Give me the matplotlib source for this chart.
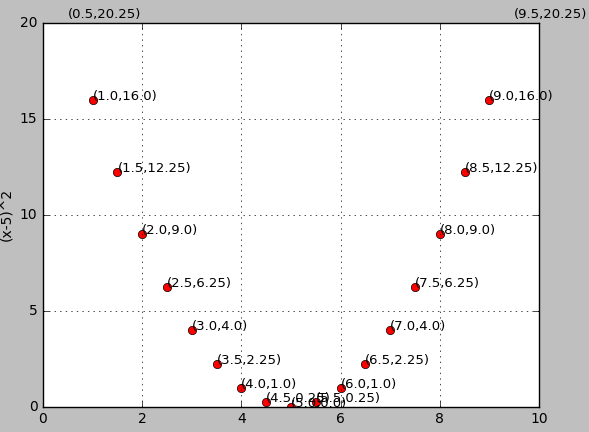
import matplotlib
matplotlib.use("Agg")
import matplotlib.pyplot as plt

plt.style.use("classic")

xs = [0.5, 1.0, 1.5, 2.0, 2.5, 3.0, 3.5, 4.0, 4.5, 5.0, 5.5, 6.0, 6.5, 7.0, 7.5, 8.0, 8.5, 9.0, 9.5]
ys = [20.25, 16.0, 12.25, 9.0, 6.25, 4.0, 2.25, 1.0, 0.25, 0.0, 0.25, 1.0, 2.25, 4.0, 6.25, 9.0, 12.25, 16.0, 20.25]

fig = plt.figure(figsize=(5.89, 4.32), dpi=100, facecolor="#bfbfbf")
ax = fig.add_axes([0.073, 0.058, 0.842, 0.889])
ax.plot(xs, ys, "ro", markersize=6)
for x, y in zip(xs, ys):
    ax.annotate("(%s,%s)" % (x, y), xy=(x, y), fontsize=9.5, annotation_clip=False)
ax.set_xlim(0, 10)
ax.set_ylim(0, 20)
ax.set_ylabel("(x-5)^2", fontsize=10)
ax.tick_params(labelsize=10)
ax.grid(True)
fig.savefig("out.png", dpi=100, facecolor=fig.get_facecolor())
